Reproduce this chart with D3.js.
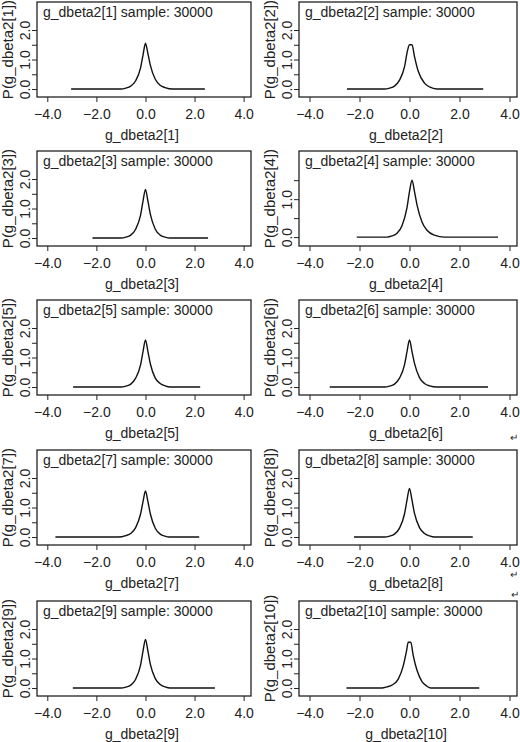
<!DOCTYPE html>
<html><head><meta charset="utf-8">
<script src="https://cdn.jsdelivr.net/npm/d3@7"></script>
<style>body{margin:0;background:#fff}text{font-family:"Liberation Sans",Arial,sans-serif;fill:#222}</style>
</head><body><svg id="c" width="520" height="742"></svg>
<script>
const names = ["g_dbeta2[1]","g_dbeta2[2]","g_dbeta2[3]","g_dbeta2[4]","g_dbeta2[5]","g_dbeta2[6]","g_dbeta2[7]","g_dbeta2[8]","g_dbeta2[9]","g_dbeta2[10]"];
const sampleSize = 30000;
const xTicks = [-4,-2,0,2,4];
const yTicksA = [0,0.5,1,1.5,2];
const yLabelsA = [0,1,2];
const yTicksB = [0,0.5,1,1.5];
const yLabelsB = [0,1];
// density points per panel [x, P]
const d1 = [[-3.03,0],[-1.0,0],[-0.8,0.03],[-0.6,0.1],[-0.4,0.28],[-0.2,0.72],[-0.1,1.15],[0,1.55],[0.1,1.2],[0.2,0.8],[0.4,0.33],[0.6,0.13],[0.8,0.05],[1.1,0],[2.42,0]];
const d2 = [[-2.5,0],[-1.0,0],[-0.8,0.03],[-0.6,0.1],[-0.4,0.3],[-0.2,0.75],[-0.08,1.3],[0,1.5],[0.1,1.5],[0.2,1.1],[0.35,0.6],[0.6,0.2],[0.8,0.07],[1.1,0],[2.95,0]];
const d3v = [[-2.16,0],[-1.0,0],[-0.8,0.03],[-0.6,0.1],[-0.4,0.3],[-0.2,0.78],[-0.1,1.25],[0,1.65],[0.1,1.25],[0.2,0.8],[0.4,0.3],[0.6,0.1],[0.8,0.03],[1.0,0],[2.55,0]];
const d4 = [[-2.11,0],[-0.9,0],[-0.7,0.03],[-0.5,0.1],[-0.3,0.3],[-0.1,0.78],[0,1.2],[0.1,1.5],[0.2,1.2],[0.3,0.85],[0.5,0.4],[0.7,0.18],[1.0,0.05],[1.4,0],[3.54,0]];
const d5 = [[-2.95,0],[-1.0,0],[-0.8,0.03],[-0.6,0.1],[-0.4,0.3],[-0.2,0.75],[-0.1,1.2],[0,1.6],[0.1,1.2],[0.2,0.78],[0.4,0.3],[0.6,0.12],[0.8,0.04],[1.0,0],[2.23,0]];
const d6 = [[-3.19,0],[-1.0,0],[-0.8,0.03],[-0.6,0.1],[-0.4,0.3],[-0.2,0.75],[-0.1,1.2],[0,1.6],[0.1,1.2],[0.2,0.8],[0.4,0.32],[0.6,0.12],[0.8,0.04],[1.1,0],[3.14,0]];
const d7 = [[-3.67,0],[-1.1,0],[-0.8,0.05],[-0.6,0.12],[-0.4,0.32],[-0.2,0.78],[-0.1,1.2],[0,1.56],[0.1,1.2],[0.2,0.78],[0.4,0.3],[0.6,0.1],[0.8,0.03],[0.95,0],[2.19,0]];
const d8 = [[-2.22,0],[-1.0,0],[-0.8,0.03],[-0.6,0.1],[-0.4,0.3],[-0.2,0.78],[-0.1,1.25],[0,1.65],[0.1,1.25],[0.2,0.8],[0.4,0.32],[0.6,0.12],[0.8,0.04],[1.0,0],[2.53,0]];
const d9 = [[-2.96,0],[-1.0,0],[-0.8,0.03],[-0.6,0.1],[-0.4,0.3],[-0.2,0.78],[-0.1,1.25],[0,1.65],[0.1,1.25],[0.2,0.8],[0.4,0.32],[0.6,0.12],[0.8,0.04],[1.0,0],[2.83,0]];
const d10 = [[-2.52,0],[-1.1,0],[-0.9,0.04],[-0.7,0.1],[-0.45,0.3],[-0.25,0.75],[-0.12,1.25],[-0.05,1.55],[0.05,1.55],[0.15,1.1],[0.3,0.6],[0.5,0.22],[0.7,0.06],[0.85,0],[2.79,0]];
const series = [d1,d2,d3v,d4,d5,d6,d7,d8,d9,d10];

const svg = d3.select("#c");
const rowTops = [2,151,300,450,601];
const colBox = [[37,251],[299,517]];
const H = 95;

series.forEach((data,i)=>{
  const r = Math.floor(i/2), c = i%2;
  const [L,R] = colBox[c];
  const T = rowTops[r], B = T+H;
  const alt = (i===3);
  const x = d3.scaleLinear().domain([-4.42,4.3]).range([L,R]);
  const y = alt ? d3.scaleLinear().domain([-0.235,2.27]).range([B,T])
                : d3.scaleLinear().domain([-0.27,2.95]).range([B,T]);
  const g = svg.append("g");
  g.append("rect").attr("x",L).attr("y",T).attr("width",R-L).attr("height",H)
    .attr("fill","none").attr("stroke","#222").attr("stroke-width",1.3);
  const xa = g.append("g").attr("transform",`translate(0,${B})`)
    .call(d3.axisBottom(x).tickValues(xTicks).tickSize(5).tickFormat(d=>d3.format(".1f")(d).replace("-","\u2212")));
  xa.select(".domain").remove();
  xa.selectAll("line").attr("stroke","#222");
  xa.selectAll("text").attr("font-size",14).attr("dy","1.0em");
  const yt = alt ? yTicksB : yTicksA, yl = alt ? yLabelsB : yLabelsA;
  const ya = g.append("g").attr("transform",`translate(${L},0)`)
    .call(d3.axisLeft(y).tickValues(yt).tickSize(5).tickFormat(d=>yl.includes(d)?d3.format(".1f")(d):""));
  ya.select(".domain").remove();
  ya.selectAll("line").attr("stroke","#222");
  ya.selectAll(".tick text").attr("font-size",14).attr("transform","rotate(-90)")
    .attr("x",0).attr("y",-7).attr("dy","0em").attr("text-anchor","middle");
  g.append("path").datum(data).attr("fill","none").attr("stroke","#111").attr("stroke-width",1.4)
    .attr("d",d3.line().x(d=>x(d[0])).y(d=>y(d[1])).curve(d3.curveMonotoneX));
  g.append("text").attr("x",L+6).attr("y",T+15).attr("font-size",14)
    .text(`${names[i]} sample: ${sampleSize}`);
  g.append("text").attr("x",(L+R)/2-2).attr("y",B+43).attr("text-anchor","middle").attr("font-size",14).text(names[i]);
  g.append("text").attr("transform",`translate(${L-24},${(T+B)/2}) rotate(-90)`).attr("text-anchor","middle")
    .attr("font-size",15).text(`P(${names[i]})`);
});
[[514,441],[514,578],[515,598]].forEach(p=>svg.append("text").attr("x",p[0]).attr("y",p[1]).attr("font-size",10).attr("text-anchor","middle").text("\u21B5"));
</script></body></html>
